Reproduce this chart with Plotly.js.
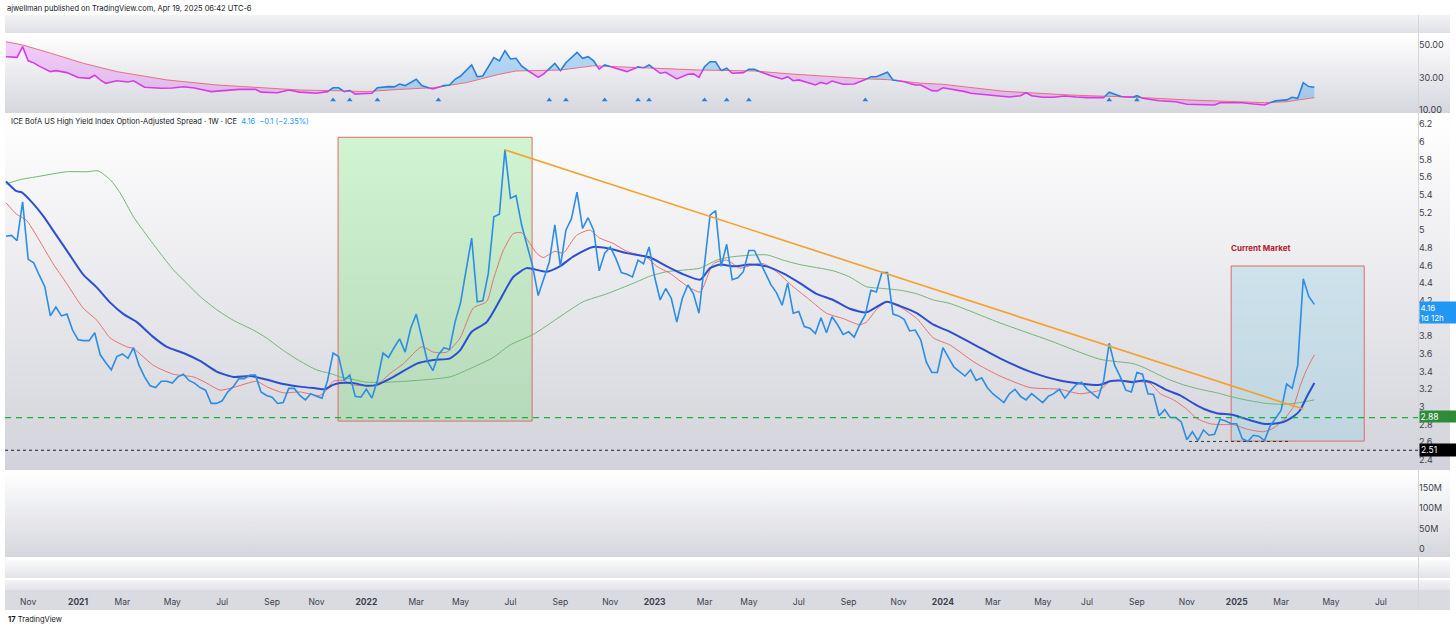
<!DOCTYPE html>
<html><head><meta charset="utf-8">
<script src="https://cdn.plot.ly/plotly-3.0.1.min.js"></script>
<style>
html,body{margin:0;padding:0;background:#fff;width:1456px;height:629px;overflow:hidden}
#wrap{position:relative;width:1456px;height:629px}
.bg{position:absolute;left:5px;width:1445px}
#chart{position:absolute;left:0;top:0;width:1456px;height:629px}
</style></head><body>
<div id="wrap">
<div class="bg" style="top:15px;height:18px;background:linear-gradient(#f4f4f6,#dfe0e5)"></div>
<div class="bg" style="top:34px;height:79px;background:linear-gradient(#ffffff,#d6d7de)"></div>
<div class="bg" style="top:115px;height:355px;background:linear-gradient(#ffffff,#d2d3da)"></div>
<div class="bg" style="top:472px;height:85px;background:linear-gradient(#ffffff,#d5d6dd)"></div>
<div class="bg" style="top:560px;height:18px;background:linear-gradient(#fbfbfc,#e2e3e8)"></div>
<div class="bg" style="top:580px;height:30px;background:linear-gradient(#f3f3f6 0%,#e4e5ea 33%,#d9dbe1 34%,#d9dbe1 100%)"></div>
<div style="position:absolute;left:1418px;top:15px;width:1px;height:595px;background:#d3d5db"></div>
<div id="chart"></div>
</div>
<script>
// ---------- DATA ----------
const startDate = '2020-10-05';           // first weekly bar
const seriesName = 'ICE BofA US High Yield Index Option-Adjusted Spread · 1W · ICE';
// weekly closes, one per week from startDate
const spread = [
4.93,4.94,4.88,5.32,4.67,4.63,4.49,4.36,4.03,4.13,
4.03,4.05,3.87,3.76,3.75,3.75,3.84,3.59,3.50,3.42,
3.57,3.60,3.55,3.67,3.47,3.34,3.24,3.22,3.29,3.29,
3.27,3.34,3.37,3.30,3.27,3.22,3.19,3.04,3.04,3.07,
3.17,3.23,3.32,3.32,3.36,3.36,3.17,3.13,3.11,3.04,
3.05,3.21,3.21,3.13,3.08,3.15,3.12,3.10,3.30,3.61,
3.57,3.30,3.36,3.12,3.11,3.20,3.10,3.30,3.61,3.56,
3.67,3.77,3.62,3.89,4.05,3.79,3.52,3.41,3.59,3.67,
3.65,3.96,4.18,4.55,4.91,4.19,4.20,4.51,5.15,5.18,
5.91,5.36,5.39,5.06,4.83,4.59,4.26,4.44,4.64,5.06,
4.59,5.00,5.13,5.43,5.02,5.14,5.00,4.54,4.74,4.81,
4.68,4.52,4.50,4.47,4.66,4.62,4.81,4.47,4.21,4.34,
4.23,3.96,4.23,4.38,4.28,4.06,4.62,5.17,5.22,4.59,
4.84,4.44,4.46,4.53,4.77,4.77,4.64,4.51,4.38,4.29,
4.15,4.40,4.06,4.08,3.91,3.89,3.83,4.01,3.84,4.02,
3.93,3.82,3.85,3.79,3.93,4.04,4.32,4.30,4.52,4.52,
4.05,4.03,3.99,3.86,3.87,3.76,3.51,3.39,3.39,3.67,
3.56,3.45,3.40,3.35,3.42,3.30,3.33,3.22,3.15,3.10,
3.05,3.15,3.20,3.12,3.08,3.15,3.10,3.05,3.12,3.15,
3.20,3.10,3.18,3.25,3.28,3.20,3.15,3.10,3.30,3.72,
3.47,3.34,3.19,3.17,3.39,3.37,3.15,3.14,2.90,2.97,
2.88,2.88,2.83,2.63,2.72,2.62,2.74,2.68,2.69,2.86,
2.84,2.81,2.81,2.64,2.61,2.68,2.67,2.62,2.78,2.87,
2.96,3.26,3.21,3.47,4.45,4.25,4.16];

// moving averages (week offset from startDate, value)
const maFastWeeks = [0,1.9,3.7,6.7,8.5,10.9,13.9,16.4,18.8,21.8,23,26.6,30.2,33.8,36.2,38.6,41,45.2,47,50,53,56.6,57.8,59,60.8,62.6,65,66.9,69.3,71.7,75,77.1,79.5,81.9,84.3,86.7,87.9,89.7,91.5,93,94.5,95.7,96.9,99,100.5,102.9,105.3,107.1,109.5,112,115.6,117.4,119.8,122.8,125.2,127.6,130,132.4,134.8,136.6,139,142,145,148,151,154,155.2,157,158.9,161.3,164.3,167.3,170.3,174.8,179.3,184.7,190.1,193.7,197.3,199.1,200.3,203.3,206.3,208.2,210.6,212.9,214.8,217.2,219.6,221.4,223.8,226.8,228.6,230.4,232.2,233.4,234.6,236];
const maFastVals  = [5.31,5.18,5.11,4.81,4.62,4.40,4.12,3.98,3.78,3.68,3.66,3.47,3.37,3.34,3.27,3.19,3.22,3.29,3.23,3.16,3.17,3.13,3.19,3.29,3.30,3.25,3.24,3.25,3.38,3.49,3.68,3.62,3.62,3.78,4.12,4.19,4.44,4.77,4.96,4.97,4.85,4.74,4.69,4.76,4.74,4.94,5.00,4.91,4.85,4.76,4.69,4.59,4.51,4.37,4.30,4.62,4.66,4.57,4.61,4.62,4.53,4.36,4.21,4.06,4.00,3.93,3.96,4.10,4.19,4.13,4.00,3.78,3.70,3.50,3.35,3.22,3.20,3.15,3.19,3.29,3.30,3.29,3.27,3.15,3.08,2.98,2.87,2.81,2.80,2.80,2.75,2.72,2.76,2.85,3.00,3.23,3.42,3.59];

const maMidWeeks = [0,1.9,2.8,4.9,6.7,9.1,11.5,13.9,16.4,18.8,21.2,23.6,26.6,29,32,35,38,41,44,47,50,53,56,57.5,59,60.2,62.6,65,66.9,69.9,74.1,77.1,80.1,81.9,84,86.7,89.1,91.5,93.9,95.1,97.5,99.9,102.3,105.9,108.9,112,116.2,119.2,122.2,125.2,127,128.8,131.2,134.2,137.2,140.2,143.2,146.2,149.2,152.2,155.2,157,158.9,161.3,164.3,167.3,170.3,174.8,179.3,184.7,190.1,197.3,199.1,200.9,203.3,205.1,207,209.4,211.8,214.2,216,218.4,221.4,224.4,226.8,228.6,230.4,232.2,233.4,234.6,236];
const maMidVals  = [5.55,5.44,5.43,5.30,5.16,4.94,4.72,4.50,4.35,4.18,4.05,3.96,3.79,3.68,3.61,3.52,3.40,3.34,3.35,3.31,3.26,3.23,3.21,3.20,3.25,3.27,3.27,3.24,3.25,3.34,3.49,3.53,3.55,3.64,3.85,3.96,4.21,4.47,4.57,4.56,4.53,4.59,4.70,4.81,4.79,4.74,4.69,4.59,4.50,4.44,4.57,4.61,4.59,4.61,4.59,4.51,4.40,4.28,4.21,4.11,4.07,4.13,4.19,4.14,4.06,3.93,3.85,3.70,3.55,3.40,3.30,3.25,3.29,3.30,3.28,3.30,3.27,3.19,3.13,3.04,2.98,2.93,2.91,2.85,2.81,2.81,2.83,2.89,2.96,3.11,3.27];

const maSlowWeeks = [0,2.5,6.1,10.9,14.6,16.6,18.8,20.6,23,25.4,27.8,30.2,32.6,35,38,41,44.6,47,50,53,56,59,60.2,62,65,68.7,74.1,80.1,84.3,87.9,90.9,95.1,99.9,104.1,108.4,113.2,116.2,119.2,125.2,128.2,131.2,137.2,140.2,143.2,149.2,152.2,155.2,158.2,161.3,164.3,167.3,170.3,179.3,188.3,197.3,203.3,205.1,209.4,212.4,215.4,218.4,221.4,224.4,227.4,230.4,233.4,236];
const maSlowVals  = [5.52,5.57,5.61,5.66,5.66,5.67,5.57,5.42,5.15,4.94,4.74,4.55,4.40,4.25,4.10,3.98,3.87,3.78,3.64,3.52,3.42,3.37,3.34,3.32,3.28,3.28,3.30,3.34,3.45,3.56,3.70,3.82,4.02,4.19,4.28,4.40,4.48,4.53,4.57,4.66,4.70,4.72,4.66,4.61,4.54,4.47,4.36,4.34,4.32,4.28,4.21,4.17,3.95,3.75,3.54,3.49,3.45,3.32,3.25,3.20,3.16,3.11,3.07,3.04,3.03,3.05,3.08];

// upper indicator pane (week offset, value) and its moving average
const indWeeks = [0,2,3,4,5,6,8,9,11,13,15,16,17,18,20,22,23,25,28,30,32,34,37,40,42,45,46,49,51,53,56,58,59,60,61,62,63,64,66,67,69,70,71,72,74,75,77,79,80,81,82,84,85,86,88,89,90,91,92,93,94,96,97,99,100,101,103,104,105,106,107,108,110,112,114,115,116,118,119,121,123,124,125,126,127,128,129,130,131,133,134,135,136,138,140,141,142,143,145,146,147,148,149,151,153,155,156,157,159,160,162,164,165,167,168,169,171,173,174,176,178,179,181,183,184,185,187,189,191,193,195,198,199,200,201,203,204,205,208,210,211,213,215,218,219,223,225,227,228,229,231,232,233,234,235,236];
const indVals  = [42.8,42.4,49,40.3,39,37,33.6,34.2,33,30,29.5,31.4,28.5,26.4,28,27.2,28,24,23.4,23.5,24.3,23.5,21.3,22.3,22.7,22.7,21,20.6,22.3,21,20.3,21.3,23.7,23.7,21.3,22,19.8,20,20.3,23.7,24.4,24.2,26,25,28.9,25,22.9,25,25.4,28.9,30.9,37.7,30.5,30.9,42.2,40.2,46.5,41.4,41.8,37.1,34.6,30.1,32.2,38.7,34.2,39.1,45.5,41.8,42.8,40.2,35.1,37.7,35.7,33.6,36.5,35.9,37.7,32.6,33.2,29.1,32,32.2,30.1,36.6,39.7,39.7,34.2,35.7,32.6,33,35.1,35,33.6,31.1,29.1,30.5,28,28.5,26.4,25.4,27,26,27.8,25.8,26,28.5,30.5,30.5,33.2,28.5,27.4,25.4,25.4,21.9,21.7,23.7,22.7,21.3,20.3,19.7,19.2,18.6,18,18.8,20.6,18.8,17.8,17.8,18.6,18,17.6,17.6,20.9,19.7,18.2,17.6,18.8,17.2,15.7,15.5,15.1,13.5,13.5,13.1,14.5,14.5,13.7,13.1,14.5,15.6,16.2,17.8,17.2,26.8,24.4,24];
const indMaWeeks = [0,3,8,14,20,29,38,47,53,59,65,71,77,83,89,92,95,100,106,110,119,125,132,135,141,150,155,159,165,169,180,192,204,213,222,227,231,236];
const indMaVals  = [52,50,45,38.7,33.6,28.5,25.4,23.4,22.3,21.9,21.3,22.7,23.7,26.8,32,34,34.2,34.6,37.2,36.6,35.7,34.6,34.2,34,32.3,30.2,29.2,28.7,26.5,25.8,21.5,19.2,17.8,16.2,15.1,14.5,15.1,17.6];
const signalWeeks = [59,62,67,78,98,101,108,114,116,126,130,134,155,199,204];
const signalLevel = 16.2;

// annotations
const zoneGreen = {w0:59.9, w1:94.9, lo:2.84, hi:6.05};
const zoneBlue  = {w0:221, w1:245, lo:2.614, hi:4.594};
const trendLine = {w:[89.9,234], v:[5.91,2.976]};
const supportLevel = 2.88, lowLevel = 2.51;
const lowSegment = {w:[213.4,231.8], v:2.61};
const lastValue = 4.16, lastChange = '−0.1 (−2.35%)';

const tickDates = ['2020-11-02','2021-01-04','2021-03-01','2021-05-03','2021-07-05','2021-09-06','2021-11-01','2022-01-03','2022-03-07','2022-05-02','2022-07-04','2022-09-05','2022-11-07','2023-01-02','2023-03-06','2023-05-01','2023-07-03','2023-09-04','2023-11-06','2024-01-01','2024-03-04','2024-05-06','2024-07-01','2024-09-02','2024-11-04','2025-01-06','2025-03-03','2025-05-05','2025-07-07'];
const tickLabels = ['Nov','2021','Mar','May','Jul','Sep','Nov','2022','Mar','May','Jul','Sep','Nov','2023','Mar','May','Jul','Sep','Nov','2024','Mar','May','Jul','Sep','Nov','2025','Mar','May','Jul'];

// ---------- HELPERS ----------
const t0 = Date.parse(startDate + 'T00:00:00Z');
function wd(w){ return new Date(t0 + w*7*864e5).toISOString().slice(0,19).replace('T',' '); }
function interp(ws, vs, w){
  if (w <= ws[0]) return vs[0];
  if (w >= ws[ws.length-1]) return vs[vs.length-1];
  for (let k=1;k<ws.length;k++) if (w <= ws[k]) { const t=(w-ws[k-1])/(ws[k]-ws[k-1]); return vs[k-1]+t*(vs[k]-vs[k-1]); }
}
const FONT = "Inter, 'Liberation Sans', sans-serif";
const traces = [];

// ---------- INDICATOR PANE ----------
const BLUE_L='#2a7fd6', PINK_L='#d83ae8', BLUE_F='rgba(33,150,243,0.30)', PINK_F='rgba(220,70,245,0.25)';
(function(){
  const segs=[]; let cur=null;
  for (let j=0;j<indWeeks.length;j++){
    const w=indWeeks[j], v=indVals[j], d=v-interp(indMaWeeks,indMaVals,w);
    const s = d>=0 ? 1 : -1;
    if (!cur){ cur={s, pts:[[w,v]]}; continue; }
    if (s!==cur.s){
      const pw=indWeeks[j-1], pv=indVals[j-1], pd=pv-interp(indMaWeeks,indMaVals,pw);
      const t=pd/(pd-d); const cw=pw+t*(w-pw), cv=pv+t*(v-pv);
      cur.pts.push([cw,cv]); segs.push(cur); cur={s, pts:[[cw,cv],[w,v]]};
    } else cur.pts.push([w,v]);
  }
  segs.push(cur);
  segs.forEach(sg=>{
    const xs=sg.pts.map(p=>wd(p[0])), ys=sg.pts.map(p=>p[1]);
    const back=sg.pts.slice().reverse();
    traces.push({x:xs.concat(back.map(p=>wd(p[0]))), y:ys.concat(back.map(p=>interp(indMaWeeks,indMaVals,p[0]))),
      xaxis:'x', yaxis:'y2', mode:'lines', line:{width:0}, fill:'toself', fillcolor: sg.s>0?BLUE_F:PINK_F, hoverinfo:'skip'});
  });
  traces.push({x:indMaWeeks.map(wd), y:indMaVals, xaxis:'x', yaxis:'y2', mode:'lines', line:{color:'#ec6f7e', width:1}, hoverinfo:'skip'});
  segs.forEach(sg=>{
    traces.push({x:sg.pts.map(p=>wd(p[0])), y:sg.pts.map(p=>p[1]), xaxis:'x', yaxis:'y2', mode:'lines',
      line:{color: sg.s>0?BLUE_L:PINK_L, width:1.6}, hoverinfo:'skip'});
  });
  traces.push({x:signalWeeks.map(wd), y:signalWeeks.map(()=>signalLevel), xaxis:'x', yaxis:'y2', mode:'markers',
    marker:{symbol:'triangle-up', size:5, color:'#2a7fd6'}, hoverinfo:'skip'});
})();

// ---------- MAIN PANE ----------
traces.push({x:maSlowWeeks.map(wd), y:maSlowVals, xaxis:'x', yaxis:'y', mode:'lines', line:{color:'#72b672', width:1, shape:'spline', smoothing:0.6}, hoverinfo:'skip'});
traces.push({x:maFastWeeks.map(wd), y:maFastVals, xaxis:'x', yaxis:'y', mode:'lines', line:{color:'#e8706f', width:1, shape:'spline', smoothing:0.6}, hoverinfo:'skip'});
traces.push({x:maMidWeeks.map(wd), y:maMidVals, xaxis:'x', yaxis:'y', mode:'lines', line:{color:'#2c4fcf', width:2, shape:'spline', smoothing:0.6}, hoverinfo:'skip'});
traces.push({x:spread.map((_,i)=>wd(i)), y:spread, xaxis:'x', yaxis:'y', mode:'lines', line:{color:'#2b8de3', width:1.6}, hoverinfo:'skip'});
traces.push({x:trendLine.w.map(wd), y:trendLine.v, xaxis:'x', yaxis:'y', mode:'lines', line:{color:'#f5a02a', width:1.6}, hoverinfo:'skip'});

// ---------- VOLUME PANE (empty) ----------
traces.push({x:[wd(0)], y:[0], xaxis:'x', yaxis:'y3', mode:'markers', marker:{opacity:0}, hoverinfo:'skip'});

// ---------- LAYOUT ----------
const PLOT_TOP=15, PLOT_BOT=610, H=PLOT_BOT-PLOT_TOP;
const dom = (top,bot)=>[(PLOT_BOT-bot)/H, (PLOT_BOT-top)/H];
const py = (pix)=>(PLOT_BOT-pix)/H;
const tickFont = {family:FONT, size:9, color:'#3d404a'};
const yBase = {side:'right', anchor:'x', showgrid:false, zeroline:false, showline:false, ticks:'', tickfont:tickFont, fixedrange:true};

const shapes = [
  {type:'rect', xref:'x', yref:'y', x0:wd(zoneGreen.w0), x1:wd(zoneGreen.w1), y0:zoneGreen.lo, y1:zoneGreen.hi,
   fillcolor:'rgba(80,220,80,0.25)', line:{color:'#e06b6b', width:1}, layer:'below'},
  {type:'rect', xref:'x', yref:'y', x0:wd(zoneBlue.w0), x1:wd(zoneBlue.w1), y0:zoneBlue.lo, y1:zoneBlue.hi,
   fillcolor:'rgba(150,210,228,0.35)', line:{color:'#e06b6b', width:1}, layer:'below'},
  {type:'line', xref:'paper', yref:'y', x0:0, x1:1, y0:supportLevel, y1:supportLevel, line:{color:'#14b53a', width:1.3, dash:'6px,5px'}},
  {type:'line', xref:'paper', yref:'y', x0:0, x1:1, y0:lowLevel, y1:lowLevel, line:{color:'#222', width:1, dash:'3px,3px'}},
  {type:'line', xref:'x', yref:'y', x0:wd(lowSegment.w[0]), x1:wd(lowSegment.w[1]), y0:lowSegment.v, y1:lowSegment.v, line:{color:'#333', width:1, dash:'3px,3px'}},
];

const annotations = [
  {xref:'paper', yref:'paper', x:0, y:py(8), xanchor:'left', yanchor:'middle', showarrow:false,
   text:'ajwellman published on TradingView.com, Apr 19, 2025 06:42 UTC-6', font:{family:FONT, size:7.5, color:'#131722'}},
  {xref:'paper', yref:'paper', x:4/1413, y:py(121), xanchor:'left', yanchor:'middle', showarrow:false,
   text: seriesName + '  <span style="color:#2196f3">' + lastValue.toFixed(2) + '  ' + lastChange + '</span>',
   font:{family:FONT, size:7.5, color:'#131722'}},
  {xref:'x', yref:'y', x:wd(226.4), y:4.8, xanchor:'center', yanchor:'middle', showarrow:false,
   text:'<b>Current Market</b>', font:{family:FONT, size:8, color:'#b3202a'}},
  {xref:'paper', yref:'y', x:1, y:lastValue, xanchor:'left', yanchor:'top', xshift:1, yshift:3, showarrow:false,
   text:lastValue.toFixed(2)+'<br>1d 12h', align:'left', bgcolor:'#2196f3', borderpad:0.5, font:{family:FONT, size:8, color:'#ffffff'}},
  {xref:'paper', yref:'y', x:1, y:supportLevel, xanchor:'left', yanchor:'middle', xshift:1, yshift:1, showarrow:false,
   text:supportLevel.toFixed(2), bgcolor:'#2e8b3a', borderpad:0.5, font:{family:FONT, size:8.5, color:'#ffffff'}},
  {xref:'paper', yref:'y', x:1, y:lowLevel, xanchor:'left', yanchor:'middle', xshift:1, showarrow:false,
   text:lowLevel.toFixed(2), bgcolor:'#000000', borderpad:1, font:{family:FONT, size:8.5, color:'#ffffff'}},
  {xref:'paper', yref:'paper', x:1/1413, y:py(619), xanchor:'left', yanchor:'middle', showarrow:false,
   text:'<b>17</b> TradingView', font:{family:FONT, size:7.5, color:'#131722'}},
];

const layout = {
  width:1456, height:629, margin:{l:5, r:38, t:PLOT_TOP, b:629-PLOT_BOT},
  paper_bgcolor:'rgba(0,0,0,0)', plot_bgcolor:'rgba(0,0,0,0)', showlegend:false,
  xaxis:{type:'date', range:[wd(-0.18), wd(254.7)], domain:[0,1], anchor:'free', position:py(595),
         showgrid:false, zeroline:false, showline:false, ticks:'', fixedrange:true,
         tickmode:'array', tickvals:tickDates,
         ticktext:tickLabels.map(t=>/^\d{4}$/.test(t)?'<b>'+t+'</b>':t),
         tickfont:{family:FONT, size:8.5, color:'#3d404a'}},
  yaxis:Object.assign({}, yBase, {domain:dom(115,470), range:[2.287,6.302], tick0:2.4, dtick:0.2}),
  yaxis2:Object.assign({}, yBase, {domain:dom(33,113), range:[8.15,57.38], tickmode:'array', tickvals:[10,30,50], ticktext:['10.00','30.00','50.00']}),
  yaxis3:Object.assign({}, yBase, {domain:dom(472,557), range:[-19.5e6,189e6], tickmode:'array', tickvals:[0,5e7,1e8,1.5e8], ticktext:['0','50M','100M','150M']}),
  shapes, annotations
};

Plotly.newPlot('chart', traces, layout, {staticPlot:true, displayModeBar:false});
</script>
</body></html>
